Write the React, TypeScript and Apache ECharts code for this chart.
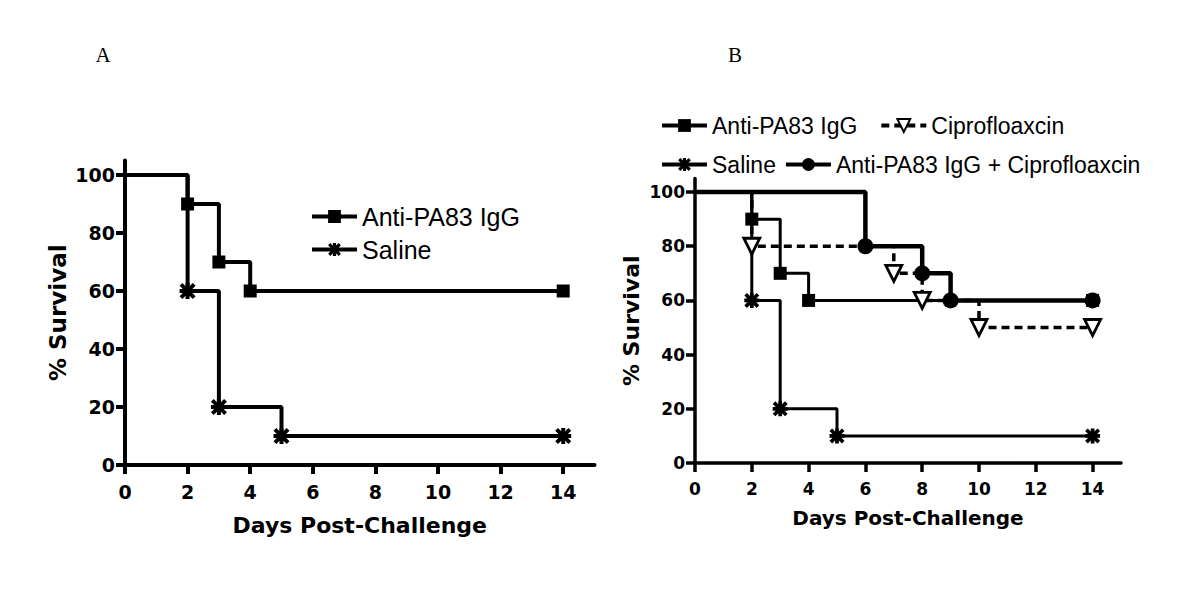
import React, { useEffect, useRef } from "react";
import * as echarts from "echarts";

// ---- data ----
const dayTicks = [0, 2, 4, 6, 8, 10, 12, 14];
const survivalTicks = [0, 20, 40, 60, 80, 100];

const aAntiDays = [0, 2, 3, 4, 14];
const aAntiSurv = [100, 90, 70, 60, 60];
const aSalineDays = [0, 2, 3, 5, 14];
const aSalineSurv = [100, 60, 20, 10, 10];

const bAntiDays = [0, 2, 3, 4, 14];
const bAntiSurv = [100, 90, 70, 60, 60];
const bSalineDays = [0, 2, 3, 5, 14];
const bSalineSurv = [100, 60, 20, 10, 10];
const bCiproDays = [0, 2, 7, 8, 10, 14];
const bCiproSurv = [100, 80, 70, 60, 50, 50];
const bComboDays = [0, 6, 8, 9, 14];
const bComboSurv = [100, 80, 70, 60, 60];

const ANTI = "Anti-PA83 IgG";
const SALINE = "Saline";
const CIPRO = "Ciprofloaxcin";
const COMBO = "Anti-PA83 IgG + Ciprofloaxcin";

const STAR =
  "path://M7.5,0H12.5V20H7.5Z M0,7.5H20V12.5H0Z M0,3.5L3.5,0L20,16.5L16.5,20Z M16.5,0L20,3.5L3.5,20L0,16.5Z";
const TRI_DOWN = "path://M0,0L20,0L10,18Z";

const BOLD = "DejaVu Sans";
const SANS = "Liberation Sans";

function pts(days: number[], surv: number[]) {
  return days.map((d, i) =>
    i === 0 ? { value: [d, surv[i]], symbol: "none" } : [d, surv[i]]
  );
}

function xAxis(grid: number, lw: number, fs: number, nfs: number, gap: number) {
  return {
    gridIndex: grid,
    type: "value",
    min: 0,
    max: 15,
    axisLine: { show: true, onZero: true, lineStyle: { color: "#000", width: lw } },
    axisTick: { show: true, length: 9, lineStyle: { color: "#000", width: lw }, customValues: dayTicks },
    axisLabel: {
      customValues: dayTicks,
      margin: 17,
      color: "#000",
      fontFamily: BOLD,
      fontWeight: "bold",
      fontSize: fs,
    },
    splitLine: { show: false },
    name: "Days Post-Challenge",
    nameLocation: "middle",
    nameGap: gap,
    nameTextStyle: { color: "#000", fontFamily: BOLD, fontWeight: "bold", fontSize: nfs },
  };
}

function yAxis(grid: number, lw: number, fs: number, nfs: number, gap: number) {
  return {
    gridIndex: grid,
    type: "value",
    min: 0,
    max: 105,
    axisLine: { show: true, onZero: true, lineStyle: { color: "#000", width: lw } },
    axisTick: { show: true, length: 9, lineStyle: { color: "#000", width: lw }, customValues: survivalTicks },
    axisLabel: {
      customValues: survivalTicks,
      margin: 10,
      color: "#000",
      fontFamily: BOLD,
      fontWeight: "bold",
      fontSize: fs,
    },
    splitLine: { show: false },
    name: "% Survival",
    nameLocation: "middle",
    nameRotate: 90,
    nameGap: gap,
    nameTextStyle: { color: "#000", fontFamily: BOLD, fontWeight: "bold", fontSize: nfs },
  };
}

function series(
  name: string,
  idx: number,
  days: number[],
  surv: number[],
  symbol: string,
  size: number,
  width: number,
  dashed: boolean,
  hollow: boolean
) {
  return {
    type: "line",
    name,
    xAxisIndex: idx,
    yAxisIndex: idx,
    data: pts(days, surv),
    step: "end",
    symbol,
    symbolSize: size,
    showAllSymbol: true,
    lineStyle: { color: "#000", width, type: dashed ? [8, 5] : "solid" },
    itemStyle: hollow
      ? { color: "#fff", borderColor: "#000", borderWidth: 2.8 }
      : { color: "#000" },
    emphasis: { disabled: true },
    silent: true,
  };
}

export default function App() {
  const ref = useRef<HTMLDivElement>(null);
  useEffect(() => {
    if (!ref.current) return;
    const chart = echarts.init(ref.current, undefined, { renderer: "svg" });
    const legendText = (fs: number) => ({ color: "#000", fontFamily: SANS, fontSize: fs, lineHeight: fs });
    const legendBase = {
      itemWidth: 45,
      itemHeight: 16,
      selectedMode: false,
      lineStyle: { width: 4 },
    };
    chart.setOption({
      animation: false,
      backgroundColor: "#fff",
      grid: [
        { left: 125, top: 160.5, width: 469.5, height: 304.5, outerBoundsMode: "none" },
        { left: 695, top: 178.5, width: 426, height: 284.5, outerBoundsMode: "none" },
      ],
      xAxis: [xAxis(0, 4, 19, 22, 49), xAxis(1, 3.5, 17, 20, 45)],
      yAxis: [yAxis(0, 4, 19, 23, 56), yAxis(1, 3.5, 17, 22, 53)],
      legend: [
        {
          ...legendBase,
          orient: "vertical",
          left: 305,
          top: 199,
          itemGap: 8,
          data: [ANTI, SALINE],
          textStyle: legendText(25),
        },
        {
          ...legendBase,
          orient: "horizontal",
          left: 655,
          top: 109,
          itemGap: 22,
          data: [ANTI, CIPRO],
          textStyle: legendText(23),
        },
        {
          ...legendBase,
          orient: "horizontal",
          left: 655,
          top: 148,
          itemGap: 8,
          data: [SALINE, COMBO],
          textStyle: legendText(23),
        },
      ],
      graphic: [
        {
          type: "text",
          x: 103,
          y: 55,
          style: { text: "A", fontFamily: "Liberation Serif", fontSize: 21, fill: "#000", align: "center", verticalAlign: "middle" },
        },
        {
          type: "text",
          x: 735,
          y: 55,
          style: { text: "B", fontFamily: "Liberation Serif", fontSize: 21, fill: "#000", align: "center", verticalAlign: "middle" },
        },
      ],
      series: [
        series(ANTI, 0, aAntiDays, aAntiSurv, "rect", 13, 4, false, false),
        series(SALINE, 0, aSalineDays, aSalineSurv, STAR, 16, 4, false, false),
        series(SALINE, 1, bSalineDays, bSalineSurv, STAR, 15, 3, false, false),
        series(ANTI, 1, bAntiDays, bAntiSurv, "rect", 13, 3, false, false),
        series(CIPRO, 1, bCiproDays, bCiproSurv, TRI_DOWN, 16, 3.5, true, true),
        series(COMBO, 1, bComboDays, bComboSurv, "circle", 16, 4.5, false, false),
      ],
    });
    return () => chart.dispose();
  }, []);
  return (
    <div
      ref={ref}
      style={{ position: "absolute", left: 0, top: 0, width: 1200, height: 599 }}
    />
  );
}
